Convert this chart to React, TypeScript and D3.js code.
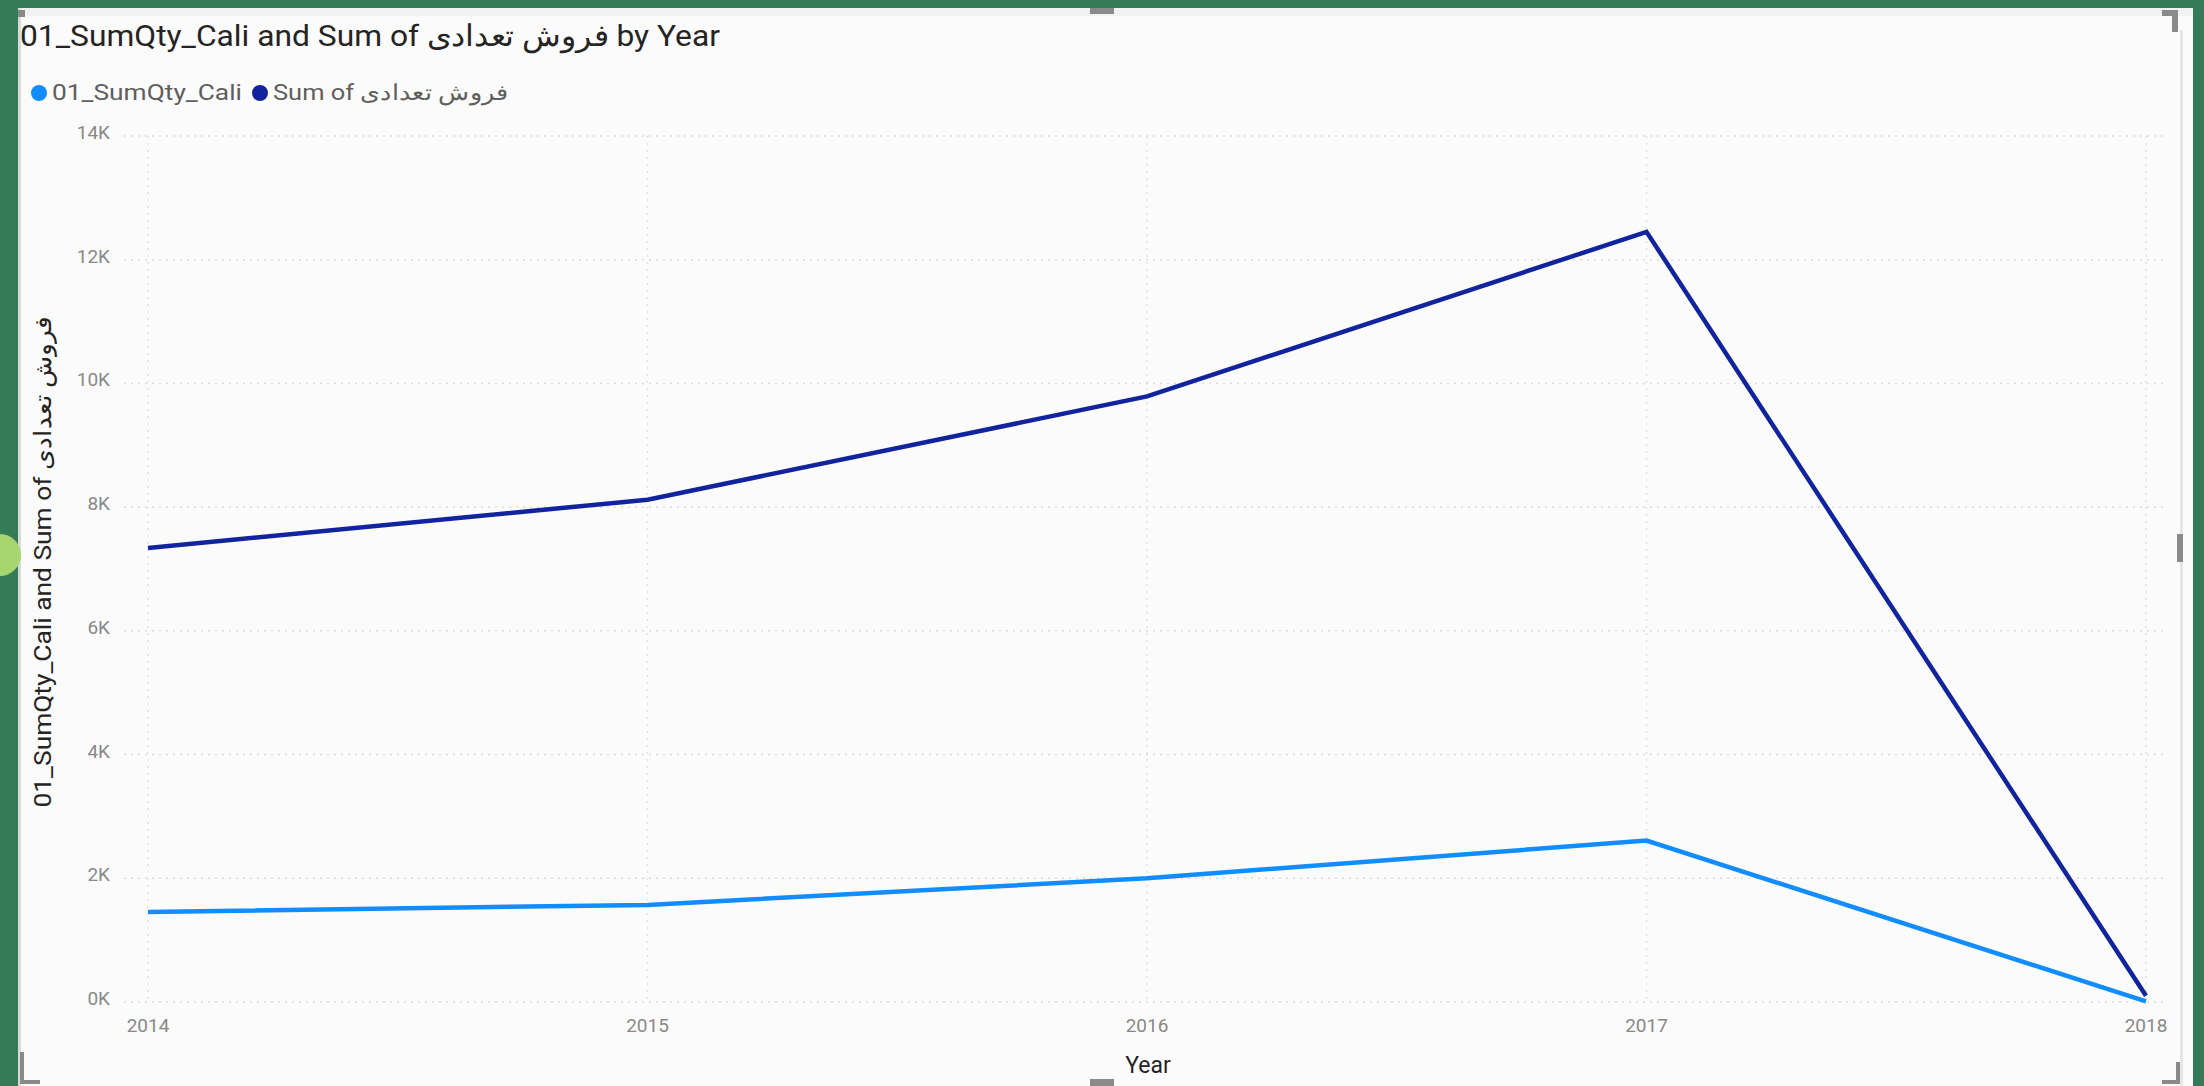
import React, { useEffect, useRef } from "react";
import * as d3 from "d3";

const years = ["2014", "2015", "2016", "2017", "2018"];
const caliValues = [1455, 1570, 2000, 2610, 10];
const forooshValues = [7340, 8120, 9790, 12450, 100];
const yTicks = [0, 2000, 4000, 6000, 8000, 10000, 12000, 14000];

const seriesNames = ["01_SumQty_Cali", "Sum of فروش تعدادی"];
const seriesColors = ["#118DFF", "#12239E"];
const titleText = "01_SumQty_Cali and Sum of فروش تعدادی by Year";
const yTitleText = "01_SumQty_Cali and Sum of فروش تعدادی";
const xTitleText = "Year";

const W = 2204;
const H = 1086;
const FONT = "Roboto, 'Open Sans', sans-serif";

export default function App() {
  const ref = useRef<SVGSVGElement>(null);

  useEffect(() => {
    document.body.style.margin = "0";
    const svg = d3.select(ref.current);
    svg.selectAll("*").remove();

    // frame
    svg.append("rect").attr("width", W).attr("height", H).attr("fill", "#367B58");
    svg.append("rect").attr("x", 18).attr("y", 8).attr("width", 2175).attr("height", H - 8).attr("fill", "#FBFBFB");
    svg.append("rect").attr("x", 18).attr("y", 8).attr("width", 2175).attr("height", 8).attr("fill", "#F1F1F1");
    svg.append("rect").attr("x", 18).attr("y", 8).attr("width", 3).attr("height", H - 8).attr("fill", "#D9D9D9");
    svg.append("rect").attr("x", 2180).attr("y", 30).attr("width", 3).attr("height", H - 30).attr("fill", "#E6E6E6");
    // handles
    svg.append("rect").attr("x", 18).attr("y", 10).attr("width", 7).attr("height", 7).attr("fill", "#8A8A8A");
    svg.append("rect").attr("x", 2162).attr("y", 10).attr("width", 16).attr("height", 6).attr("fill", "#8A8A8A");
    svg.append("rect").attr("x", 2172).attr("y", 10).attr("width", 6).attr("height", 22).attr("fill", "#8A8A8A");
    svg.append("rect").attr("x", 1090).attr("y", 8).attr("width", 24).attr("height", 6).attr("fill", "#8A8A8A");
    svg.append("rect").attr("x", 1090).attr("y", 1079).attr("width", 24).attr("height", 7).attr("fill", "#8A8A8A");
    svg.append("rect").attr("x", 2177).attr("y", 534).attr("width", 6).attr("height", 28).attr("fill", "#8A8A8A");
    svg.append("path").attr("d", "M22 1052 V1082 H40").attr("fill", "none").attr("stroke", "#8A8A8A").attr("stroke-width", 4);
    svg.append("path").attr("d", "M2178 1062 V1082 H2162").attr("fill", "none").attr("stroke", "#8A8A8A").attr("stroke-width", 4);
    svg.append("circle").attr("cx", 0).attr("cy", 555).attr("r", 21).attr("fill", "#A6D46E");

    const x = d3.scalePoint<string>().domain(years).range([148, 2146]);
    const y = d3.scaleLinear().domain([0, 14000]).range([1002, 136]);

    // gridlines
    const g = svg.append("g");
    g.selectAll("line.h")
      .data(yTicks)
      .enter()
      .append("line")
      .attr("x1", 124)
      .attr("x2", 2168)
      .attr("y1", (d) => y(d))
      .attr("y2", (d) => y(d))
      .attr("stroke", "#DCDCDC")
      .attr("stroke-width", 1.5)
      .attr("stroke-dasharray", "2,5");
    g.selectAll("line.v")
      .data(years)
      .enter()
      .append("line")
      .attr("x1", (d) => x(d)!)
      .attr("x2", (d) => x(d)!)
      .attr("y1", y(14000))
      .attr("y2", y(0))
      .attr("stroke", "#E2E2E2")
      .attr("stroke-width", 1.5)
      .attr("stroke-dasharray", "2,5");

    // y tick labels
    svg.append("g")
      .selectAll("text")
      .data(yTicks)
      .enter()
      .append("text")
      .attr("x", 110)
      .attr("y", (d) => y(d) - 2)
      .attr("text-anchor", "end")
      .attr("dominant-baseline", "middle")
      .attr("font-family", FONT)
      .attr("font-size", 19)
      .attr("fill", "#8A8886")
      .text((d) => `${d / 1000}K`);

    // x tick labels
    svg.append("g")
      .selectAll("text")
      .data(years)
      .enter()
      .append("text")
      .attr("x", (d) => x(d)!)
      .attr("y", 1027)
      .attr("text-anchor", "middle")
      .attr("dominant-baseline", "middle")
      .attr("font-family", FONT)
      .attr("font-size", 19)
      .attr("fill", "#8A8886")
      .text((d) => d);

    // lines
    const line = d3
      .line<number>()
      .x((_, i) => x(years[i])!)
      .y((d) => y(d));
    [caliValues, forooshValues].forEach((vals, i) => {
      svg.append("path")
        .datum(vals)
        .attr("d", line)
        .attr("fill", "none")
        .attr("stroke", seriesColors[i])
        .attr("stroke-width", 4.5)
        .attr("stroke-linejoin", "miter");
    });

    // title
    svg.append("text")
      .attr("x", 20)
      .attr("y", 46)
      .attr("font-family", FONT)
      .attr("font-size", 30)
      .attr("textLength", 700)
      .attr("lengthAdjust", "spacingAndGlyphs")
      .attr("fill", "#252423")
      .text(titleText);

    // legend
    const legend = svg.append("g");
    const lx = [39, 260];
    const lw = [190, 236];
    seriesNames.forEach((name, i) => {
      legend.append("circle").attr("cx", lx[i]).attr("cy", 93).attr("r", 8).attr("fill", seriesColors[i]);
      legend.append("text")
        .attr("x", lx[i] + 13)
        .attr("y", 94)
        .attr("dominant-baseline", "middle")
        .attr("font-family", FONT)
        .attr("font-size", 22)
        .attr("textLength", lw[i])
        .attr("lengthAdjust", "spacingAndGlyphs")
        .attr("fill", "#605E5C")
        .text(name);
    });

    // axis titles
    svg.append("text")
      .attr("transform", `translate(51,562) rotate(-90)`)
      .attr("text-anchor", "middle")
      .attr("font-family", FONT)
      .attr("font-size", 24)
      .attr("textLength", 491)
      .attr("lengthAdjust", "spacingAndGlyphs")
      .attr("fill", "#252423")
      .text(yTitleText);
    svg.append("text")
      .attr("x", 1148)
      .attr("y", 1073)
      .attr("text-anchor", "middle")
      .attr("font-family", FONT)
      .attr("font-size", 23)
      .attr("fill", "#252423")
      .text(xTitleText);
  }, []);

  return <svg ref={ref} width={W} height={H} style={{ display: "block" }} />;
}
